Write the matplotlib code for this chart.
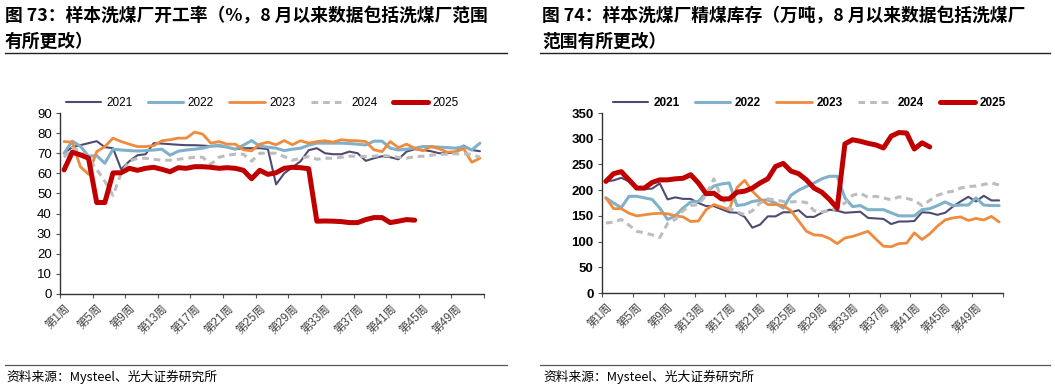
import matplotlib
matplotlib.use("Agg")
import matplotlib.pyplot as plt
from matplotlib.lines import Line2D

plt.rcParams['font.family'] = ['Liberation Sans', 'Noto Sans CJK SC', 'DejaVu Sans']

years = ['2021', '2022', '2023', '2024', '2025']
week_labels = ['第%d周' % w for w in range(1, 53, 4)]

rate_2021 = [70, 73, 74, 75, 76, 73, 72.5, 62, 66, 69, 69.5, 75, 74.8, 74.5, 74.2, 74, 74, 73.8, 73.5, 73.5,
             73, 72, 72.5, 72.5, 72.5, 72, 54.5, 60, 63, 66, 71.5, 72.5, 70, 69.5, 69.5, 70.8, 70, 66.2, 67.5, 68.5,
             68, 67, 70.8, 72, 71.6, 71, 70, 70, 70.5, 73.8, 71.6, 71]
rate_2022 = [70, 76, 73.5, 68.5, 68.8, 65, 72, 71.6, 71.3, 71.1, 71.3, 71.6, 72, 69, 71, 71.6, 72, 72.5, 73.5, 74,
             73, 72, 74, 76.3, 73.5, 73, 72.5, 71.3, 72, 72.5, 74, 75, 75, 75, 75, 74.8, 74.5, 74.1, 76, 76,
             72.5, 71.6, 72, 72.5, 73.3, 73.3, 73, 72.8, 72.5, 73.3, 71.6, 75]
rate_2023 = [75.8, 75.5, 63.3, 59.5, 70.8, 73.3, 77.5, 75.8, 74.5, 73.3, 73.3, 73.8, 76.2, 76.7, 77.5, 77.5, 80.5, 79.5, 75, 75.8,
             74.5, 74.5, 71.7, 71.2, 74.5, 75.5, 74.2, 76.3, 74.2, 76.2, 75, 75.8, 76.2, 75.5, 76.7, 76.3, 76.2, 75.8, 71.7, 70.8,
             75.8, 72.8, 74.5, 72.5, 71.2, 73.3, 72.2, 70.5, 70.8, 72.2, 65.5, 67.5]
rate_2024 = [68, 72.5, 71, 67.5, 62, 56, 49, 60, 66, 67.5, 67.5, 67, 66.5, 66.5, 67, 67.5, 68, 68, 64.5, 68,
             69, 69.5, 69.5, 66, 70, 70, 70, 68.3, 66.5, 67.5, 68.3, 67, 67.5, 67.5, 68, 68.5, 68.5, 68.3, 68.5, 69,
             68.5, 68, 67.5, 68.3, 68.5, 69, 69.5, 69.5, 69.7, 69.7, 69.5, 68]
rate_2025 = [61.7, 70.5, 69.2, 67.5, 45.5, 45.5, 60.2, 60.3, 62.5, 61.5, 62.5, 63, 62, 60.8, 62.8, 62.5, 63.3, 63.3, 63, 62.5,
             62.8, 62.5, 61.5, 57.3, 61.5, 59.5, 60.3, 62.5, 63, 62.8, 62.3, 36.2, 36.3, 36.2, 36, 35.5, 35.5, 37, 38, 38,
             35.5, 36.2, 37, 36.7]

stock_2021 = [217, 219, 224, 217, 204, 202, 203, 213, 182, 186, 183, 183, 175, 169, 169, 163, 157, 156, 148, 127,
              133, 149, 149, 157, 157, 161, 148, 148, 156, 162, 160, 156, 157, 158, 146, 145, 144, 134, 139, 139,
              140, 157, 156, 152, 156, 168, 178, 187, 178, 189, 180, 180]
stock_2022 = [185, 175, 166, 188, 188, 185, 182, 165, 143, 150, 165, 177, 178, 195, 208, 212, 214, 170, 172, 178,
              180, 181, 175, 165, 190, 200, 207, 214, 222, 227, 227, 185, 168, 170, 162, 162, 162, 156, 150, 150,
              150, 162, 164, 170, 177, 170, 171, 171, 185, 171, 170, 170]
stock_2023 = [185, 164, 164, 155, 150, 152, 154, 155, 154, 150, 148, 139, 140, 162, 172, 167, 162, 205, 219, 198,
              183, 172, 172, 170, 160, 140, 120, 113, 112, 106, 96, 107, 110, 115, 120, 105, 91, 90, 96, 97,
              117, 104, 115, 130, 142, 146, 148, 141, 145, 142, 149, 138]
stock_2024 = [136, 138, 143, 132, 120, 117, 113, 108, 135, 143, 160, 170, 172, 190, 222, 185, 165, 158, 152, 160,
              175, 183, 181, 178, 177, 178, 176, 160, 158, 160, 165, 175, 190, 194, 186, 188, 185, 181, 187, 184,
              180, 170, 180, 190, 195, 198, 204, 207, 208, 211, 214, 210]
stock_2025 = [217, 232, 236, 220, 204, 204, 215, 220, 220, 222, 223, 230, 214, 193, 194, 183, 183, 196, 198, 204,
              214, 222, 246, 252, 237, 232, 220, 204, 196, 182, 165, 290, 298, 295, 291, 288, 282, 305, 312, 311,
              280, 292, 284]

colors = ['#4e4b72', '#80b1ca', '#f08a3c', '#bdbdbd', '#c00000']
widths = [1.5, 2.2, 2.0, 2.2, 3.6]
styles = ['-', '-', '-', (0, (2.2, 1.6)), '-']

W, H = 1055, 387
fig = plt.figure(figsize=(W / 100, H / 100), dpi=100)


def px_axes(l, t, r, b):
    return fig.add_axes([l / W, 1 - b / H, (r - l) / W, (b - t) / H])


def draw(ax, series, ymax, ystep, bold):
    for s, c, lw, ls, lab in zip(series, colors, widths, styles, years):
        x = list(range(1, len(s) + 1))
        ax.plot(x, s, color=c, lw=lw, ls=ls, label=lab, solid_capstyle='round',
                dash_capstyle='butt', solid_joinstyle='round')
    ax.set_xlim(0.5, 52.5)
    ax.set_ylim(0, ymax)
    ax.set_yticks(range(0, ymax + 1, ystep))
    ax.set_xticks([0.5 + i for i in range(0, 53, 4)])
    ax.set_xticklabels([])
    ax.set_xticks(list(range(1, 53, 4)), minor=True)
    ax.set_xticklabels(week_labels, minor=True, rotation=45, ha='right',
                       rotation_mode='anchor', fontsize=8.3, color='#444444')
    ax.tick_params(axis='x', which='minor', length=0, pad=6)
    ax.tick_params(axis='x', which='major', length=3, color='#555555', direction='out')
    ax.tick_params(axis='y', length=3, color='#555555', labelsize=9.5, pad=3)
    for lab in ax.get_yticklabels():
        lab.set_fontweight('bold' if bold else 'normal')
    for sp in ['top', 'right']:
        ax.spines[sp].set_visible(False)
    for sp in ['left', 'bottom']:
        ax.spines[sp].set_color('#333333')
        ax.spines[sp].set_linewidth(1.0)


ax1 = px_axes(60, 113, 484, 294)
draw(ax1, [rate_2021, rate_2022, rate_2023, rate_2024, rate_2025], 90, 10, False)
ax2 = px_axes(602, 113, 1003, 293)
draw(ax2, [stock_2021, stock_2022, stock_2023, stock_2024, stock_2025], 350, 50, True)

for ax, x0, bold in [(ax1, 66 / W, False), (ax2, 613 / W, True)]:
    h, l = ax.get_legend_handles_labels()
    fig.legend(h, l, loc='center left', bbox_to_anchor=(x0, 1 - 103 / H), ncol=5,
               frameon=False, handlelength=3.0, columnspacing=1.3,
               handletextpad=0.4, borderaxespad=0, borderpad=0,
               prop={'weight': 'bold' if bold else 'normal', 'size': 8.5})

title_font = ['Noto Sans CJK SC', 'DejaVu Sans']
fig.text(5 / W, 1 - 7 / H, '图 73：样本洗煤厂开工率（%，8 月以来数据包括洗煤厂范围\n有所更改）',
         ha='left', va='top', fontsize=12.8, fontweight='bold', family=title_font, linespacing=1.55)
fig.text(542 / W, 1 - 7 / H, '图 74：样本洗煤厂精煤库存（万吨，8 月以来数据包括洗煤厂\n范围有所更改）',
         ha='left', va='top', fontsize=12.8, fontweight='bold', family=title_font, linespacing=1.55)

for x0, x1 in [(5, 507), (540, 1050)]:
    fig.add_artist(Line2D([x0 / W, x1 / W], [1 - 53 / H, 1 - 53 / H], color='#222222', lw=1.0))
    fig.add_artist(Line2D([x0 / W, x1 / W], [1 - 365 / H, 1 - 365 / H], color='#555555', lw=0.9))

fig.text(6 / W, 1 - 377 / H, '资料来源：Mysteel、光大证券研究所', ha='left', va='center',
         fontsize=9.2, family=title_font)
fig.text(543 / W, 1 - 377 / H, '资料来源：Mysteel、光大证券研究所', ha='left', va='center',
         fontsize=9.2, family=title_font)

fig.savefig('out.png', dpi=100)
